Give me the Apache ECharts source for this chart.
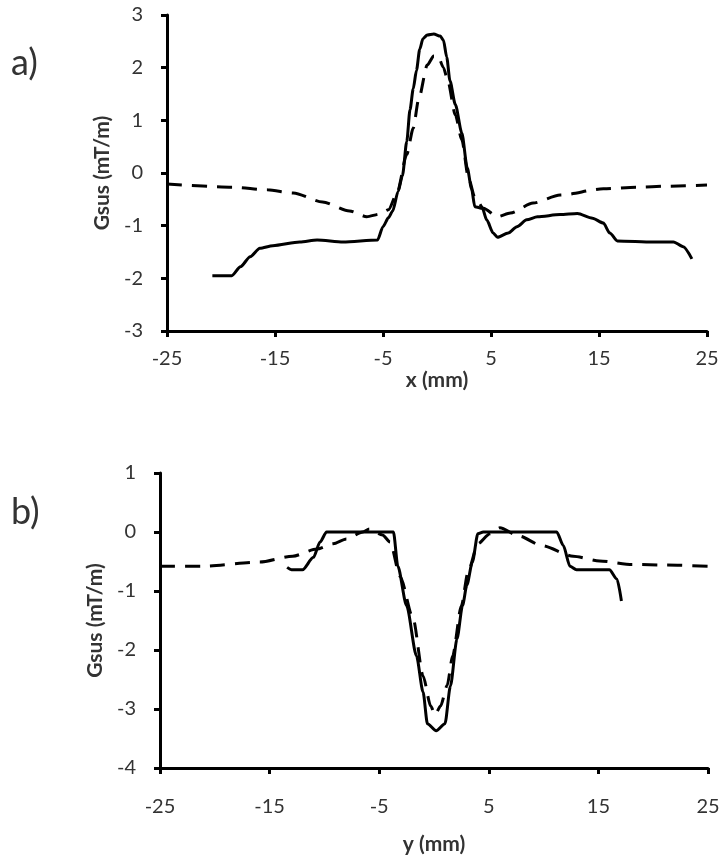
<!DOCTYPE html>
<html>
<head>
<meta charset="utf-8">
<script src="https://cdn.jsdelivr.net/npm/echarts@6/dist/echarts.min.js"></script>
<style>
  html, body { margin: 0; padding: 0; background: #fff; }
  #chart { width: 728px; height: 859px; }
</style>
</head>
<body>
<div id="chart"></div>
<script>
  // tick labels shared by both x axes
  var xTicks = [-25, -15, -5, 5, 15, 25]

  // panel a) : Gsus along x
  var aSolidX = [-20.8, -19.0, -18.2, -17.3, -16.4, -15.2, -12.7, -11.1, -8.7, -5.5, -5.0, -4.5, -4.1, -3.6, -3.2, -2.8, -2.5, -2.2, -1.9, -1.6, -1.3, -0.9, -0.3, 0.3, 0.6, 0.9, 1.2, 1.7, 2.3, 2.8, 3.2, 3.5, 4.2, 4.6, 5.2, 5.6, 6.6, 7.4, 8.3, 9.3, 11.4, 13.0, 14.4, 15.4, 16.0, 16.7, 20.0, 21.9, 22.8, 23.6]
  var aSolidY = [-1.95, -1.95, -1.78, -1.59, -1.43, -1.38, -1.31, -1.27, -1.31, -1.27, -1.02, -0.85, -0.72, -0.35, -0.05, 0.6, 1.2, 1.6, 1.95, 2.35, 2.55, 2.62, 2.64, 2.6, 2.52, 2.2, 1.75, 1.3, 0.76, 0.1, -0.3, -0.64, -0.67, -0.89, -1.14, -1.22, -1.14, -1.02, -0.89, -0.83, -0.79, -0.77, -0.86, -0.95, -1.14, -1.29, -1.31, -1.31, -1.40, -1.63]
  var aDashX = [-25, -18.9, -15.7, -13.3, -10.6, -8.1, -6.5, -5.3, -4.5, -3.7, -2.8, -2.2, -1.7, -0.9, -0.3, 0.1, 0.6, 1.0, 1.7, 2.3, 2.9, 3.5, 4.3, 5.6, 6.8, 8.9, 11.4, 15.4, 18.5, 21.3, 25]
  var aDashY = [-0.21, -0.27, -0.32, -0.38, -0.55, -0.72, -0.83, -0.78, -0.7, -0.38, 0.35, 0.85, 1.4, 2.05, 2.22, 2.22, 2.0, 1.75, 1.1, 0.63, -0.08, -0.46, -0.67, -0.83, -0.76, -0.57, -0.42, -0.3, -0.27, -0.25, -0.23]

  // panel b) : Gsus along y
  var bSolidX = [-13.4, -13.0, -12.0, -11.0, -10.4, -9.8, -3.7, -3.3, -2.5, -1.6, -1.0, -0.6, 0.2, 1.0, 1.5, 2.1, 2.6, 3.0, 3.5, 4.0, 4.5, 11.2, 11.8, 12.4, 13.0, 16.0, 16.7, 17.1]
  var bSolidY = [-0.6, -0.64, -0.64, -0.43, -0.17, 0, 0, -0.58, -1.25, -2.1, -2.71, -3.25, -3.37, -3.25, -2.61, -1.81, -1.25, -0.9, -0.51, -0.03, 0, 0, -0.23, -0.58, -0.64, -0.64, -0.8, -1.17]
  var bDashX = [-25, -21.1, -15.9, -12.9, -10.7, -9.2, -8.0, -6.5, -5.9, -4.7, -4.0, -3.1, -1.9, -1.0, -0.3, 0.1, 0.6, 1.2, 1.7, 2.5, 3.1, 4.0, 5.1, 6.0, 7.8, 9.8, 12.7, 15.1, 18.1, 21.2, 25]
  var bDashY = [-0.58, -0.58, -0.51, -0.41, -0.29, -0.2, -0.12, 0, 0.05, -0.05, -0.17, -0.75, -1.47, -2.44, -2.95, -3.1, -2.95, -2.6, -2.1, -1.25, -0.68, -0.2, -0.03, 0.07, -0.07, -0.23, -0.41, -0.49, -0.55, -0.56, -0.58]

  function zip(xs, ys) {
    var out = []
    for (var i = 0; i < xs.length; i++) {
      out.push([xs[i], ys[i]])
    }
    return out
  }

  var font = 'Lato'
  var labelColor = '#333'

  function xAxisFor(idx, name, labelMargin, nameGap) {
    return {
      type: 'value',
      gridIndex: idx,
      min: -25,
      max: 25,
      name: name,
      nameLocation: 'middle',
      nameGap: nameGap,
      nameTextStyle: { fontFamily: font, fontSize: 21, fontWeight: 'bold', color: labelColor },
      axisLine: { onZero: false, lineStyle: { color: '#000', width: 3 } },
      axisTick: { show: true, customValues: xTicks, length: 6, lineStyle: { color: '#000', width: 3 } },
      axisLabel: { customValues: xTicks, margin: labelMargin, fontFamily: font, fontSize: 20, color: labelColor },
      splitLine: { show: false }
    }
  }

  function yAxisFor(idx, min, max) {
    return {
      type: 'value',
      gridIndex: idx,
      min: min,
      max: max,
      interval: 1,
      name: 'Gsus (mT/m)',
      nameLocation: 'middle',
      nameGap: 46,
      nameTextStyle: { fontFamily: font, fontSize: 21, fontWeight: 'bold', color: labelColor },
      axisLine: { show: true, onZero: false, lineStyle: { color: '#000', width: 3 } },
      axisTick: { show: true, length: 6, lineStyle: { color: '#000', width: 3 } },
      axisLabel: { margin: 24, fontFamily: font, fontSize: 20, color: labelColor },
      splitLine: { show: false }
    }
  }

  function lineSeries(idx, data, dashed) {
    return {
      type: 'line',
      xAxisIndex: idx,
      yAxisIndex: idx,
      data: data,
      showSymbol: false,
      smooth: 0.25,
      smoothMonotone: 'x',
      silent: true,
      lineStyle: { color: '#000', width: 3, type: dashed ? [15, 10] : 'solid' }
    }
  }

  var chart = echarts.init(document.getElementById('chart'))

  var option = {
    backgroundColor: '#fff',
    animation: false,
    title: [
      { text: 'a)', left: 6, top: 40, textStyle: { fontFamily: font, fontSize: 36, fontWeight: 'normal', color: labelColor } },
      { text: 'b)', left: 6, top: 489, textStyle: { fontFamily: font, fontSize: 36, fontWeight: 'normal', color: labelColor } }
    ],
    grid: [
      { left: 167, top: 15, width: 540, height: 316 },
      { left: 160, top: 473, width: 548, height: 295 }
    ],
    xAxis: [
      xAxisFor(0, 'x (mm)', 18, 37),
      xAxisFor(1, 'y (mm)', 29, 66)
    ],
    yAxis: [
      yAxisFor(0, -3, 3),
      yAxisFor(1, -4, 1)
    ],
    series: [
      lineSeries(0, zip(aSolidX, aSolidY), false),
      lineSeries(0, zip(aDashX, aDashY), true),
      lineSeries(1, zip(bSolidX, bSolidY), false),
      lineSeries(1, zip(bDashX, bDashY), true)
    ]
  }

  chart.setOption(option)
</script>
</body>
</html>
